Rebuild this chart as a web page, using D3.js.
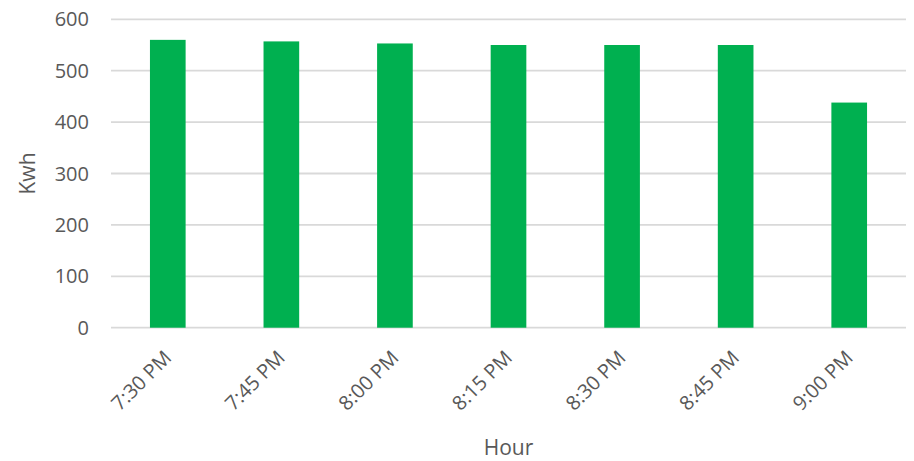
<!DOCTYPE html>
<html>
<head>
<meta charset="utf-8">
<script src="https://cdn.jsdelivr.net/npm/d3@7"></script>
<style>
  html, body { margin: 0; padding: 0; background: #fff; }
  svg { display: block; }
  text { font-family: "Open Sans", "Liberation Sans", sans-serif; fill: #595959; }
</style>
</head>
<body>
<svg id="chart" width="914" height="461"></svg>
<script>
const categories = ["7:30 PM", "7:45 PM", "8:00 PM", "8:15 PM", "8:30 PM", "8:45 PM", "9:00 PM"];
const values = [560, 557, 553, 550, 550, 550, 438];
const yTicks = [0, 100, 200, 300, 400, 500, 600];
const xTitle = "Hour";
const yTitle = "Kwh";

(function () {
const svg = d3.select("#chart");
const mLeft = 111, mRight = 906, mTop = 19.3, mBottom = 327.7;

const x = d3.scaleBand().domain(categories).range([mLeft, mRight]).paddingInner(0.686).paddingOuter(0.343);
const y = d3.scaleLinear().domain([0, 600]).range([mBottom, mTop]);

// gridlines
svg.append("g").selectAll("line").data(yTicks).join("line")
  .attr("x1", mLeft).attr("x2", mRight)
  .attr("y1", d => y(d)).attr("y2", d => y(d))
  .attr("stroke", "#d9d9d9").attr("stroke-width", 1.8);

// y tick labels
svg.append("g").selectAll("text").data(yTicks).join("text")
  .attr("x", 89).attr("y", d => y(d)).attr("dy", "0.35em")
  .attr("text-anchor", "end").style("font-size", "20px")
  .text(d => d);

// bars
svg.append("g").selectAll("rect").data(values).join("rect")
  .attr("x", (d, i) => x(categories[i]))
  .attr("width", x.bandwidth())
  .attr("y", d => y(d))
  .attr("height", d => y(0) - y(d))
  .attr("fill", "#00b050");

// x labels
svg.append("g").selectAll("text").data(categories).join("text")
  .attr("transform", d => `translate(${x(d) + x.bandwidth() / 2},354) rotate(-45)`)
  .attr("text-anchor", "end").attr("dy", "0.35em")
  .style("font-size", "20px")
  .text(d => d);

// axis titles
svg.append("text")
  .attr("x", (mLeft + mRight) / 2).attr("y", 455)
  .attr("text-anchor", "middle").style("font-size", "21px")
  .text(xTitle);

svg.append("text")
  .attr("transform", `translate(28,${(mTop + mBottom) / 2}) rotate(-90)`)
  .attr("text-anchor", "middle").attr("dy", "0.35em").style("font-size", "21px")
  .text(yTitle);
})();
</script>
</body>
</html>
